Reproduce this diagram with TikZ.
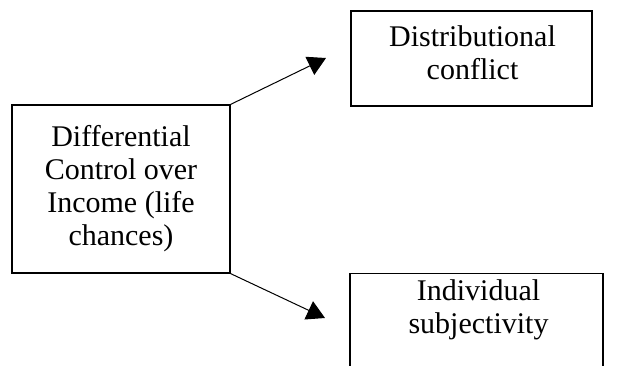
\documentclass[tikz,border=0pt]{standalone}
\usepackage{fontspec}
\setmainfont{Liberation Serif}
\usetikzlibrary{arrows.meta,calc}
\begin{document}
\begin{tikzpicture}[x=1pt,y=-1pt,
  box/.style={draw,line width=1.2pt,inner sep=0pt,align=center,
    font=\fontsize{30}{33}\selectfont},
  txt/.style={inner sep=0pt,align=center,font=\fontsize{30}{33}\selectfont},
  link/.style={line width=1pt,-{Triangle[length=18pt,width=20pt]}}]
  \useasboundingbox (0,0) rectangle (617,365);
  \clip (0,0) rectangle (617,365);
  % cause on the left
  \node[box,minimum width=218pt,minimum height=168pt] (cause) at (121,189)
    {Differential\\Control over\\Income (life\\chances)};
  % upper outcome
  \node[box,minimum width=241pt,minimum height=95pt] (dist) at (471.5,58.5) {};
  \node[txt,anchor=north] (disttext) at ($(dist.north)+(1,15)$) {Distributional\\conflict};
  % lower outcome, running past the lower edge
  \node[box,anchor=north,minimum width=253pt,minimum height=120pt] (subj) at (476.5,273) {};
  \node[txt,anchor=north] (subjtext) at ($(subj.north)+(2,6)$) {Individual\\subjectivity};
  % arrow tips stop short of the boxes
  \coordinate (tipA) at (326,58);
  \coordinate (tipB) at (325,318);
  \draw[link] (cause.north east) -- (tipA);
  \draw[link] (cause.south east) -- (tipB);
\end{tikzpicture}
\end{document}
